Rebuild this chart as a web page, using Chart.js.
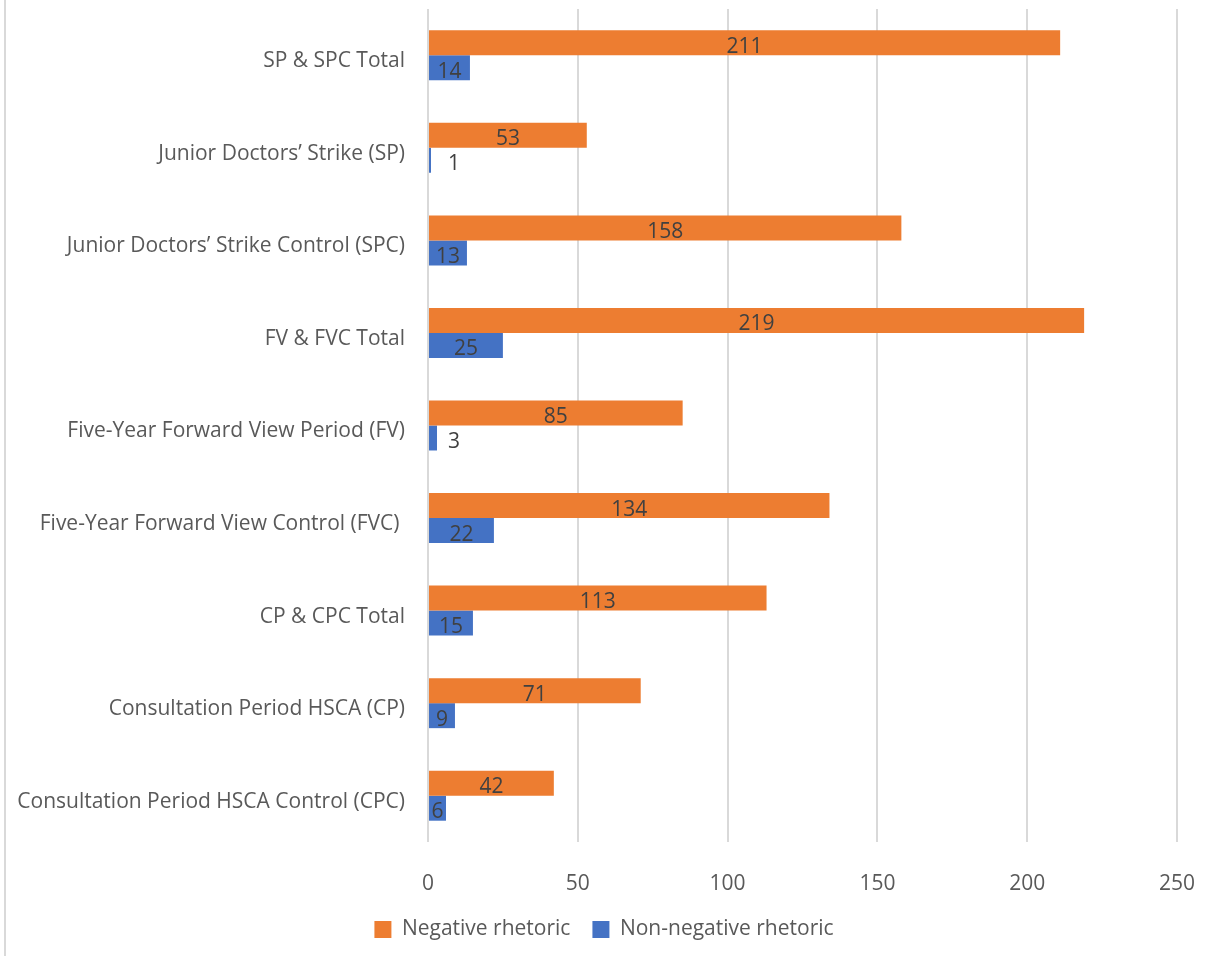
<!DOCTYPE html>
<html>
<head>
<meta charset="utf-8">
<script src="https://cdn.jsdelivr.net/npm/chart.js@4"></script>
<style>
  html, body { margin: 0; padding: 0; background: #fff; }
  #wrap { position: relative; width: 1208px; height: 956px; }
  #edge { position: absolute; left: 4px; top: 0; width: 2px; height: 956px; background: #d9d9d9; }
</style>
</head>
<body>
<div id="wrap">
  <div id="edge"></div>
  <canvas id="myChart01" width="1208" height="956"></canvas>
</div>
<script>
// categories, top to bottom
var periods = [
    'SP & SPC Total',
    'Junior Doctors\u2019 Strike (SP)',
    'Junior Doctors\u2019 Strike Control (SPC)',
    'FV & FVC Total',
    'Five-Year Forward View Period (FV)',
    'Five-Year Forward View Control (FVC) ',
    'CP & CPC Total',
    'Consultation Period HSCA (CP)',
    'Consultation Period HSCA Control (CPC)'
];
var negative = [211, 53, 158, 219, 85, 134, 113, 71, 42];
var nonNegative = [14, 1, 13, 25, 3, 22, 15, 9, 6];
var xTicks = [0, 50, 100, 150, 200, 250];

var FONT = '"Open Sans", sans-serif';
var FSIZE = 21;

// value labels on the bars
var barLabels = {
    id: 'barLabels',
    afterDatasetsDraw: function (chart) {
        var ctx = chart.ctx;
        ctx.save();
        ctx.font = FSIZE + 'px ' + FONT;
        ctx.fillStyle = '#404040';
        ctx.textAlign = 'center';
        ctx.textBaseline = 'middle';
        chart.data.datasets.forEach(function (ds, i) {
            chart.getDatasetMeta(i).data.forEach(function (bar, j) {
                var x = (bar.base + bar.x) / 2;
                if (bar.x - bar.base < 12) x = bar.base + 25;
                ctx.fillText(ds.data[j], x, bar.y + 4);
            });
        });
        ctx.restore();
    }
};

// centre the legend on the whole canvas rather than on the padded box
var legendShift = {
    id: 'legendShift',
    afterLayout: function (chart) {
        if (chart.legend) chart.legend.left = 31;
    }
};

var ctx01 = document.getElementById('myChart01');
var chart01 = new Chart(ctx01, {
    type: 'bar',
    data: {
        labels: periods,
        datasets: [{
            label: 'Negative rhetoric',
            data: negative,
            backgroundColor: '#ED7D31',
            categoryPercentage: 0.54,
            barPercentage: 1.0
        }, {
            label: 'Non-negative rhetoric',
            data: nonNegative,
            backgroundColor: '#4472C4',
            categoryPercentage: 0.54,
            barPercentage: 1.0
        }]
    },
    options: {
        indexAxis: 'y',
        responsive: false,
        animation: false,
        layout: { padding: { top: 9, right: 31, bottom: 6, left: 0 } },
        scales: {
            x: {
                min: 0,
                max: 250,
                afterBuildTicks: function (scale) {
                    scale.ticks = xTicks.map(function (v) { return { value: v }; });
                },
                afterFit: function (scale) {
                    scale.height = 55;
                    scale.paddingLeft = 0;
                    scale.paddingRight = 0;
                },
                grid: { color: '#d9d9d9', lineWidth: 2, drawTicks: false },
                border: { display: false },
                ticks: { padding: 29, color: '#595959', font: { family: FONT, size: FSIZE } }
            },
            y: {
                afterFit: function (scale) {
                    scale.width = 428;
                    scale.paddingTop = 0;
                    scale.paddingBottom = 0;
                },
                grid: { display: false, drawTicks: false },
                border: { display: false },
                ticks: { padding: 23, labelOffset: 6, color: '#595959', font: { family: FONT, size: FSIZE } }
            }
        },
        plugins: {
            legend: {
                position: 'bottom',
                labels: {
                    boxWidth: 17,
                    boxHeight: 17,
                    padding: 22,
                    color: '#595959',
                    font: { family: FONT, size: FSIZE }
                }
            },
            tooltip: { enabled: false }
        }
    },
    plugins: [barLabels, legendShift]
});
</script>
</body>
</html>
